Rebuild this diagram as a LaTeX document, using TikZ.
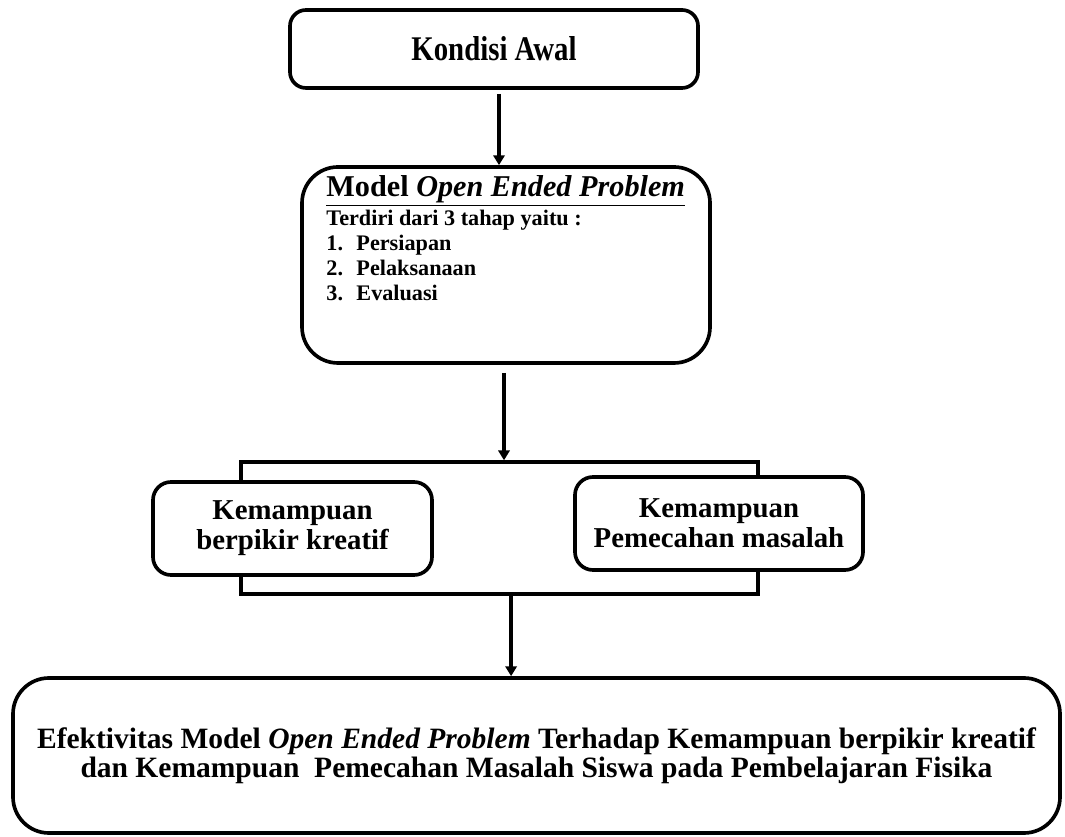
\documentclass[tikz,border=0pt]{standalone}
\usepackage{fontspec}
\setmainfont{Liberation Serif}
\usetikzlibrary{calc}
\usetikzlibrary{arrows.meta}

\begin{document}
\begin{tikzpicture}[
  box/.style={draw, line width=2.6pt, fill=white, align=center, font=\fontsize{20.5}{21.5}\selectfont\bfseries},
  arr/.style={line width=2.4pt, -{Triangle[length=7pt,width=8pt]}}]
  \useasboundingbox (0,0) rectangle (26.625,20.9);
  % frame round the two abilities
  \node[draw, line width=2.4pt, minimum width=12.925cm, minimum height=3.3cm] (bracket) at (12.4875,7.7) {};
  \node[box, rounded corners=0.4cm, minimum width=10.2cm, minimum height=1.95cm] (kondisi) at (12.35,19.675) {\scalebox{1}[1.2]{Kondisi Awal}};
  \node[box, rounded corners=0.9cm, minimum width=10.2cm, minimum height=4.9cm] (model) at (12.65,14.275) {};
  \node[anchor=north west, inner sep=0pt, align=left, font=\fontsize{15.8}{17.8}\selectfont\bfseries] (modeltext) at ($(model.north west)+(0.65,-0.25)$)
    {{\fontsize{21.5}{22}\selectfont\underline{Model \textit{Open Ended Problem}}}\\[3pt]
     Terdiri dari 3 tahap yaitu :\\
     \makebox[1.35em][l]{1.}Persiapan\\
     \makebox[1.35em][l]{2.}Pelaksanaan\\
     \makebox[1.35em][l]{3.}Evaluasi};
  \node[box, rounded corners=0.45cm, minimum width=6.975cm, minimum height=2.325cm] (kreatif) at (7.3125,7.6875) {Kemampuan\\ berpikir kreatif};
  \node[box, rounded corners=0.45cm, minimum width=7.2cm, minimum height=2.325cm] (masalah) at (17.975,7.8125) {Kemampuan\\ Pemecahan masalah};
  \node[box, rounded corners=0.9cm, minimum width=26.175cm, minimum height=3.875cm, font=\fontsize{21}{20.6}\selectfont\bfseries] (efek) at (13.4125,2.0125)
    {Efektivitas Model \textit{Open Ended Problem} Terhadap Kemampuan berpikir kreatif\\ dan Kemampuan\ \ Pemecahan Masalah Siswa pada Pembelajaran Fisika};
  % arrows
  \draw[arr] ([shift={(0.125,-0.1)}]kondisi.south) -- ([xshift=0.125cm]kondisi.south |- model.north);
  \draw[arr] ([shift={(-0.05,-0.2)}]model.south) -- ([xshift=-0.05cm]model.south |- bracket.north);
  \draw[arr] ([xshift=0.29cm]bracket.south) -- ([xshift=0.29cm]bracket.south |- efek.north);
\end{tikzpicture}
\end{document}
